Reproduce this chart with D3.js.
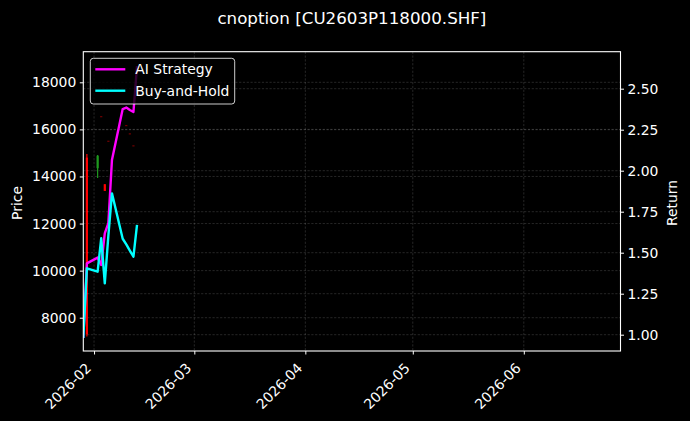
<!DOCTYPE html>
<html>
<head>
<meta charset="utf-8">
<script src="https://cdn.jsdelivr.net/npm/d3@7"></script>
<style>
  html, body { margin: 0; padding: 0; background: #000; }
  svg { display: block; font-family: "DejaVu Sans", sans-serif; }
</style>
</head>
<body>
<script>
// daily OHLC of the option (visible candles only)
const candleDates = ['2026-01-30', '2026-02-02', '2026-02-03', '2026-02-04', '2026-02-05', '2026-02-10', '2026-02-11', '2026-02-12'];
const opens  = [7300, 14880, 16565, 13385, 15520, 16187, 15835, 15325];
const highs  = [14955, 14910, 16565, 13670, 15520, 16187, 15835, 15325];
const lows   = [7197, 13935, 16565, 13385, 15520, 16187, 15835, 15325];
const closes = [14800, 14350, 16565, 13670, 15520, 16187, 15835, 15325];

// cumulative return series
const returnDates = ['2026-01-29', '2026-01-30', '2026-02-02', '2026-02-03', '2026-02-04', '2026-02-05',
  '2026-02-06', '2026-02-09', '2026-02-10', '2026-02-11', '2026-02-12', '2026-02-13'];
const aiStrategy = [0.98, 1.435, 1.47, 1.425, 1.618, 1.68, 2.065, 2.376, 2.385, 2.37, 2.358, 2.638];
const buyAndHold = [0.98, 1.405, 1.384, 1.588, 1.313, 1.604, 1.862, 1.585, 1.551, 1.513, 1.476, 1.669];

const priceTicks = [8000, 10000, 12000, 14000, 16000, 18000];
const returnTicks = [1.0, 1.25, 1.5, 1.75, 2.0, 2.25, 2.5];
const title = 'cnoption [CU2603P118000.SHF]';

const W = 690, H = 421;
const margin = { top: 51.7, right: 69.5, bottom: 70, left: 83.3 };
const parse = d3.utcParse('%Y-%m-%d');

const x = d3.scaleUtc()
  .domain([parse('2026-01-29'), parse('2026-06-28')])
  .range([margin.left, W - margin.right]);
const yPrice = d3.scaleLinear().domain([6586, 19300]).range([H - margin.bottom, margin.top]);
const yRet = d3.scaleLinear().domain([0.9006, 2.7256]).range([H - margin.bottom, margin.top]);

const svg = d3.select('body').append('svg')
  .attr('width', W)
  .attr('height', H);

svg.append('rect').attr('width', W).attr('height', H).attr('fill', '#000');

svg.append('defs').append('clipPath').attr('id', 'plot')
  .append('rect')
  .attr('x', margin.left).attr('y', margin.top)
  .attr('width', W - margin.left - margin.right)
  .attr('height', H - margin.top - margin.bottom);

const monthTicks = d3.utcMonth.range(parse('2026-02-01'), parse('2026-07-01'));

// grid
const gridStyle = sel => sel
  .attr('stroke', '#fff')
  .attr('stroke-opacity', 0.25)
  .attr('stroke-width', 0.6)
  .attr('stroke-dasharray', '2.2,1.6');

svg.append('g').selectAll('line')
  .data(monthTicks)
  .join('line')
  .attr('x1', d => x(d)).attr('x2', d => x(d))
  .attr('y1', margin.top).attr('y2', H - margin.bottom)
  .call(gridStyle);

svg.append('g').selectAll('line')
  .data(priceTicks)
  .join('line')
  .attr('x1', margin.left).attr('x2', W - margin.right)
  .attr('y1', d => yPrice(d)).attr('y2', d => yPrice(d))
  .call(gridStyle);

// candles
const candles = candleDates.map((d, i) => ({
  date: parse(d), o: opens[i], h: highs[i], l: lows[i], c: closes[i]
}));
const bodyW = 2.2;
const cg = svg.append('g').attr('clip-path', 'url(#plot)');
const candleColor = d => d.c >= d.o ? '#ff0000' : '#1f9a1f';

cg.selectAll('line.wick')
  .data(candles.filter(d => d.h > d.l))
  .join('line')
  .attr('class', 'wick')
  .attr('x1', d => x(d.date)).attr('x2', d => x(d.date))
  .attr('y1', d => yPrice(d.h)).attr('y2', d => yPrice(d.l))
  .attr('stroke', candleColor)
  .attr('stroke-width', 1.2);

cg.selectAll('rect.body')
  .data(candles)
  .join('rect')
  .attr('class', 'body')
  .attr('x', d => x(d.date) - bodyW / 2)
  .attr('width', bodyW)
  .attr('y', d => yPrice(Math.max(d.o, d.c)))
  .attr('height', d => Math.max(1.2, Math.abs(yPrice(d.o) - yPrice(d.c))))
  .attr('fill', candleColor)
  .attr('fill-opacity', d => d.h === d.l ? 0.45 : 1);

// second axis grid
svg.append('g').selectAll('line')
  .data(returnTicks)
  .join('line')
  .attr('x1', margin.left).attr('x2', W - margin.right)
  .attr('y1', d => yRet(d)).attr('y2', d => yRet(d))
  .call(gridStyle);

// return lines
const rDates = returnDates.map(parse);
const line = d3.line()
  .x(d => x(d[0]))
  .y(d => yRet(d[1]));

const series = [
  { name: 'AI Strategy', color: '#ff00ff', values: aiStrategy },
  { name: 'Buy-and-Hold', color: '#00ffff', values: buyAndHold }
];

const lg = svg.append('g').attr('clip-path', 'url(#plot)');
series.forEach(s => {
  lg.append('path')
    .datum(rDates.map((d, i) => [d, s.values[i]]))
    .attr('d', line)
    .attr('fill', 'none')
    .attr('stroke', s.color)
    .attr('stroke-width', 2.4)
    .attr('stroke-linejoin', 'round');
});

// axes
const fontSize = 13.9;
const styleAxis = g => {
  g.select('.domain').remove();
  g.selectAll('.tick line').attr('stroke', '#fff').attr('stroke-width', 1);
  g.selectAll('.tick text').attr('fill', '#fff').attr('font-size', fontSize)
    .attr('font-family', '"DejaVu Sans", sans-serif');
};

svg.append('g')
  .attr('transform', `translate(${margin.left},0)`)
  .call(d3.axisLeft(yPrice).tickValues(priceTicks).tickSize(3.5).tickPadding(3.5).tickFormat(d3.format('d')))
  .call(styleAxis);

svg.append('g')
  .attr('transform', `translate(${W - margin.right},0)`)
  .call(d3.axisRight(yRet).tickValues(returnTicks).tickSize(3.5).tickPadding(3.5).tickFormat(d3.format('.2f')))
  .call(styleAxis);

const xAxis = svg.append('g')
  .attr('transform', `translate(0,${H - margin.bottom})`)
  .call(d3.axisBottom(x).tickValues(monthTicks).tickSize(3.5).tickFormat(d3.utcFormat('%Y-%m')))
  .call(styleAxis);

xAxis.selectAll('.tick text')
  .attr('text-anchor', 'end')
  .attr('dy', 0)
  .attr('y', 0)
  .attr('transform', 'translate(-2.5,18) rotate(-45)');

// spines
svg.append('rect')
  .attr('x', margin.left).attr('y', margin.top)
  .attr('width', W - margin.left - margin.right)
  .attr('height', H - margin.top - margin.bottom)
  .attr('fill', 'none')
  .attr('stroke', '#fff')
  .attr('stroke-width', 1.1);

// labels
svg.append('text')
  .attr('x', (margin.left + W - margin.right) / 2)
  .attr('y', 24)
  .attr('text-anchor', 'middle')
  .attr('fill', '#fff')
  .attr('font-size', 16.7)
  .text(title);

svg.append('text')
  .attr('transform', `translate(16.7,203) rotate(-90)`)
  .attr('dy', '0.35em')
  .attr('text-anchor', 'middle')
  .attr('fill', '#fff')
  .attr('font-size', fontSize)
  .text('Price');

svg.append('text')
  .attr('transform', `translate(671.7,203) rotate(-90)`)
  .attr('dy', '0.35em')
  .attr('text-anchor', 'middle')
  .attr('fill', '#fff')
  .attr('font-size', fontSize)
  .text('Return');

// legend
const legend = svg.append('g').attr('transform', 'translate(90.3,58.3)');
legend.append('rect')
  .attr('width', 144.4)
  .attr('height', 45.7)
  .attr('rx', 3)
  .attr('fill', '#000')
  .attr('fill-opacity', 0.8)
  .attr('stroke', '#fff')
  .attr('stroke-opacity', 0.8)
  .attr('stroke-width', 1);

series.forEach((s, i) => {
  const row = legend.append('g').attr('transform', `translate(0,${11 + i * 21.4})`);
  row.append('line')
    .attr('x1', 5).attr('x2', 35)
    .attr('stroke', s.color)
    .attr('stroke-width', 2.4);
  row.append('text')
    .attr('x', 45)
    .attr('dy', '0.35em')
    .attr('fill', '#fff')
    .attr('font-size', fontSize)
    .text(s.name);
});
</script>
</body>
</html>
